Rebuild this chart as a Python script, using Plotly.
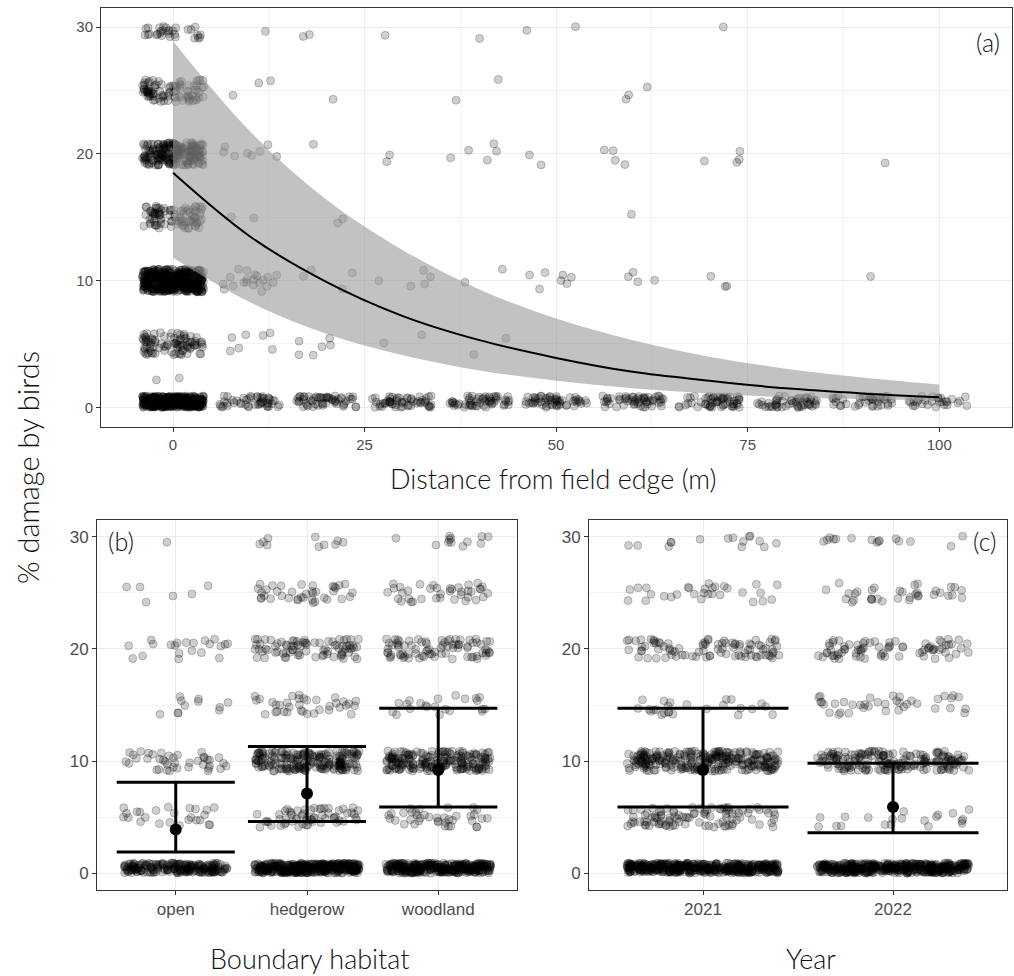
import numpy as np
import plotly.graph_objects as go

# ---------------- Panel (a): damage against distance from the field edge ----------------
distance_m = [0, 10, 20, 30, 40, 50, 60, 70, 80, 90, 100]
damage_levels_a = [0, 2, 5, 10, 15, 20, 25, 30]
# number of assessed plots at each distance, one list per damage score
n_score_0 = [400, 48, 55, 55, 55, 55, 55, 55, 50, 38, 28]
n_score_2 = [2, 0, 0, 0, 0, 0, 0, 0, 0, 0, 0]
n_score_5 = [90, 7, 6, 2, 2, 0, 0, 0, 0, 0, 0]
n_score_10 = [450, 20, 4, 5, 2, 7, 4, 3, 0, 1, 0]
n_score_15 = [90, 2, 2, 0, 0, 0, 1, 0, 0, 0, 0]
n_score_20 = [200, 8, 1, 2, 5, 2, 4, 4, 0, 1, 0]
n_score_25 = [90, 3, 1, 0, 2, 0, 3, 0, 0, 0, 0]
n_score_30 = [30, 1, 2, 1, 1, 2, 0, 1, 0, 0, 0]

# fitted decay with its confidence band
fit_distance = [0, 10, 20, 30, 40, 50, 60, 70, 80, 90, 100]
fit_damage = [18.5, 13.5, 9.9, 7.2, 5.3, 3.9, 2.8, 2.1, 1.5, 1.1, 0.8]
fit_lower = [11.8, 8.3, 5.8, 4.1, 2.9, 2.1, 1.5, 1.1, 0.8, 0.65, 0.55]
fit_upper = [28.9, 21.8, 16.4, 12.4, 9.3, 7.0, 5.3, 4.0, 3.05, 2.35, 1.8]

# ---------------- Panel (b): boundary habitat ----------------
damage_levels_bc = [0, 5, 10, 15, 20, 25, 30]
habitats = ["open", "hedgerow", "woodland"]
n_open = [210, 25, 40, 11, 21, 6, 1]
n_hedgerow = [400, 60, 200, 36, 80, 38, 10]
n_woodland = [330, 38, 200, 22, 80, 38, 12]
habitat_mean = [3.9, 7.1, 9.2]
habitat_lower = [1.9, 4.6, 5.9]
habitat_upper = [8.1, 11.3, 14.7]

# ---------------- Panel (c): year ----------------
years = ["2021", "2022"]
n_2021 = [460, 100, 270, 25, 90, 30, 15]
n_2022 = [460, 20, 180, 38, 75, 35, 15]
year_mean = [9.2, 5.9]
year_lower = [5.9, 3.6]
year_upper = [14.7, 9.8]

# ---------------- helpers ----------------
W, H = 1014, 976


def band(level):
    """Vertical spread of the jittered points around a damage score."""
    if level == 0:
        return 0.0, 0.9
    if level == 30:
        return -0.9, 0.1
    return -0.9, 0.9


def hash01(a, b):
    """Deterministic scatter in [0, 1) used for jittering points."""
    return np.modf(np.abs(np.sin(a * 12.9898 + b * 78.233)) * 43758.5453)[0]


def jitter(center, level, n, half_width, key):
    k = np.arange(1, n + 1, dtype=float)
    u = hash01(k, key + 0.5)
    v = hash01(k + 1000.0, key * 1.7 + 3.1)
    lo, hi = band(level)
    return center + (2 * u - 1) * half_width, level + lo + v * (hi - lo)


def cloud(centers, levels, table, half_width, seed):
    xs, ys = [], []
    key = seed
    for ci, c in enumerate(centers):
        for li, lev in enumerate(levels):
            n = table[li][ci]
            key += 1
            if n:
                x, y = jitter(c, lev, n, half_width, key)
                xs.append(x)
                ys.append(y)
    return np.concatenate(xs), np.concatenate(ys)


def whiskers(lower, upper, cap=0.45):
    xs, ys = [], []
    for i, (lo, hi) in enumerate(zip(lower, upper)):
        c = i + 1
        xs += [c, c, None, c - cap, c + cap, None, c - cap, c + cap, None]
        ys += [lo, hi, None, lo, lo, None, hi, hi, None]
    return xs, ys


point_style = dict(size=8, color="rgba(0,0,0,0.19)",
                   line=dict(color="rgba(0,0,0,0.22)", width=1))

fig = go.Figure()

# panel (a) points
table_a = [n_score_0, n_score_2, n_score_5, n_score_10, n_score_15,
           n_score_20, n_score_25, n_score_30]
xa, ya = cloud(distance_m, damage_levels_a, table_a, 4.0, 0)
fig.add_trace(go.Scatter(x=xa, y=ya, mode="markers", marker=point_style,
                         xaxis="x", yaxis="y", hoverinfo="skip"))

# confidence band and fitted line
fig.add_trace(go.Scatter(x=fit_distance, y=fit_lower, mode="lines",
                         line=dict(width=0, shape="spline"), xaxis="x", yaxis="y",
                         hoverinfo="skip"))
fig.add_trace(go.Scatter(x=fit_distance, y=fit_upper, mode="lines",
                         line=dict(width=0, shape="spline"), fill="tonexty",
                         fillcolor="rgba(153,153,153,0.6)", xaxis="x", yaxis="y",
                         hoverinfo="skip"))
fig.add_trace(go.Scatter(x=fit_distance, y=fit_damage, mode="lines",
                         line=dict(color="black", width=2, shape="spline"),
                         xaxis="x", yaxis="y"))

# panel (b)
table_b = [[n_open[i], n_hedgerow[i], n_woodland[i]] for i in range(len(damage_levels_bc))]
xb, yb = cloud([1, 2, 3], damage_levels_bc, table_b, 0.4, 200)
fig.add_trace(go.Scatter(x=xb, y=yb, mode="markers", marker=point_style,
                         xaxis="x2", yaxis="y2", hoverinfo="skip"))
wx, wy = whiskers(habitat_lower, habitat_upper)
fig.add_trace(go.Scatter(x=wx, y=wy, mode="lines", line=dict(color="black", width=3),
                         xaxis="x2", yaxis="y2"))
fig.add_trace(go.Scatter(x=[1, 2, 3], y=habitat_mean, mode="markers",
                         marker=dict(color="black", size=12), xaxis="x2", yaxis="y2"))

# panel (c)
table_c = [[n_2021[i], n_2022[i]] for i in range(len(damage_levels_bc))]
xc, yc = cloud([1, 2], damage_levels_bc, table_c, 0.4, 400)
fig.add_trace(go.Scatter(x=xc, y=yc, mode="markers", marker=point_style,
                         xaxis="x3", yaxis="y3", hoverinfo="skip"))
wx, wy = whiskers(year_lower, year_upper)
fig.add_trace(go.Scatter(x=wx, y=wy, mode="lines", line=dict(color="black", width=3),
                         xaxis="x3", yaxis="y3"))
fig.add_trace(go.Scatter(x=[1, 2], y=year_mean, mode="markers",
                         marker=dict(color="black", size=12), xaxis="x3", yaxis="y3"))


def dom_x(a, b):
    return [a / W, b / W]


def dom_y(top, bottom):
    return [1 - bottom / H, 1 - top / H]


GRID = "#ebebeb"
MINOR = "#f3f3f3"
LINE = "#333333"
TICKC = "#4d4d4d"


def axis(domain, rng, anchor, size, **kw):
    d = dict(domain=domain, range=rng, anchor=anchor, showline=True, linecolor=LINE,
             linewidth=1, mirror=True, ticks="outside", ticklen=4, tickcolor=LINE,
             tickwidth=1, showgrid=True, gridcolor=GRID, gridwidth=1, zeroline=False,
             tickfont=dict(family="Liberation Sans, Arial", size=size, color=TICKC))
    d.update(kw)
    return d


ygrid_minor = dict(dtick=5, tick0=0, showgrid=True, gridcolor=MINOR, gridwidth=0.6, ticks="")

layout = dict(
    width=W, height=H, margin=dict(l=0, r=0, t=0, b=0),
    paper_bgcolor="white", plot_bgcolor="white", showlegend=False,
    xaxis=axis(dom_x(101, 1012), [-9.4, 109.5], "y", 15,
               tickvals=[0, 25, 50, 75, 100],
               minor=dict(dtick=12.5, tick0=0, showgrid=True, gridcolor=MINOR,
                          gridwidth=0.6, ticks="")),
    yaxis=axis(dom_y(8, 427), [-1.55, 31.5], "x", 15, tickvals=[0, 10, 20, 30],
               minor=ygrid_minor),
    xaxis2=axis(dom_x(97, 517), [0.4, 3.6], "y2", 17, tickvals=[1, 2, 3],
                ticktext=habitats),
    yaxis2=axis(dom_y(520, 890), [-1.5, 31.5], "x2", 17, tickvals=[0, 10, 20, 30],
                minor=ygrid_minor),
    xaxis3=axis(dom_x(589, 1007), [0.4, 2.6], "y3", 17, tickvals=[1, 2],
                ticktext=years),
    yaxis3=axis(dom_y(520, 890), [-1.5, 31.5], "x3", 17, tickvals=[0, 10, 20, 30],
                minor=ygrid_minor),
)
fig.update_layout(**layout)

title_font = dict(family="Lato, Open Sans, sans-serif", size=26, color="#111111", weight=300)


def label(text, x, y, size=26, angle=0):
    f = dict(title_font)
    f["size"] = size
    fig.add_annotation(text=text, x=x / W, y=1 - y / H, xref="paper", yref="paper",
                       xanchor="center", yanchor="middle", showarrow=False,
                       font=f, textangle=angle)


label("(a)", 988, 42, 25)
label("(b)", 121, 541, 25)
label("(c)", 985, 541, 25)
label("Distance from field edge (m)", 553, 478, 27)
label("Boundary habitat", 310, 958, 27)
label("Year", 811, 958, 27)
label("% damage by birds", 27, 468, 29, -90)

fig.write_html("out.html")
